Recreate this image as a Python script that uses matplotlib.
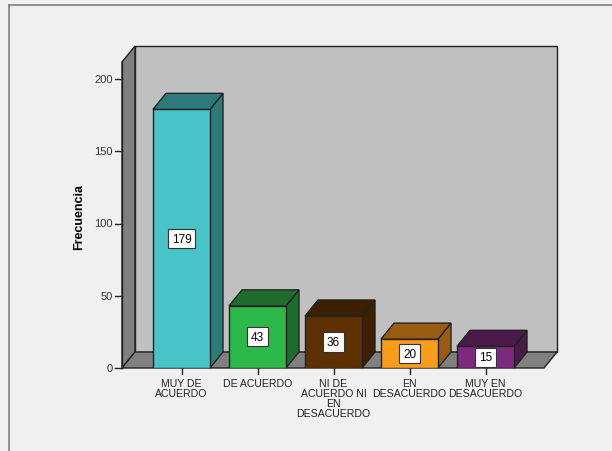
import matplotlib
matplotlib.use("Agg")
import matplotlib.pyplot as plt
from matplotlib.patches import Polygon, Rectangle

categories = ["MUY DE\nACUERDO", "DE ACUERDO", "NI DE\nACUERDO NI\nEN\nDESACUERDO",
              "EN\nDESACUERDO", "MUY EN\nDESACUERDO"]
values = [179, 43, 36, 20, 15]
front_colors = ["#48c3c8", "#2db84a", "#5e3000", "#f99c1c", "#7b2a7e"]
side_colors = ["#2e7a7a", "#1e6c2e", "#3d2000", "#9a5c12", "#4a1a48"]
yticks = [0, 50, 100, 150, 200]

W, H = 612, 452
fig = plt.figure(figsize=(W / 100, H / 100), dpi=100)
fig.patch.set_facecolor("#f0f0f0")

# outer frame (only top and left visible)
fig.add_artist(plt.Line2D([9 / W, 9 / W], [0, 1 - 6 / H], color="#808080", lw=1.2))
fig.add_artist(plt.Line2D([9 / W, 1], [1 - 6 / H, 1 - 6 / H], color="#808080", lw=1.2))

# axes: x from front-left of floor to back-right wall, y from 0 to top of back wall
px_left, px_right, px_zero, px_top = 122, 557, 369, 47
ax = fig.add_axes([px_left / W, (H - px_zero) / H,
                   (px_right - px_left) / W, (px_zero - px_top) / H])
xunit = 76.0  # px per category
x0 = -59.5 / xunit
x1 = x0 + (px_right - px_left) / xunit
yunit = (px_zero - 80) / 200.0  # px per value unit
ax.set_xlim(x0, x1)
ax.set_ylim(0, (px_zero - px_top) / yunit)
ax.axis("off")

# depth offset in data units
ddx = 13 / xunit
ddy = 16 / yunit
ytop = (px_zero - 63) / yunit
xr = x1 - ddx  # right edge of front floor

edge = dict(edgecolor="#222222", lw=1.0, clip_on=False, joinstyle="miter")
# back wall
ax.add_patch(Rectangle((x0 + ddx, ddy), xr - x0, ytop,
                       facecolor="#c0c0c0", **edge))
# left side wall
ax.add_patch(Polygon([(x0, 0), (x0 + ddx, ddy), (x0 + ddx, ytop + ddy), (x0, ytop)],
                     facecolor="#808080", **edge))
# floor
ax.add_patch(Polygon([(x0, 0), (xr, 0), (xr + ddx, ddy), (x0 + ddx, ddy)],
                     facecolor="#808080", **edge))

bw = 0.75
xs = list(range(len(values)))
bars = ax.bar(xs, values, width=bw, color=front_colors, edgecolor="#222222",
              lw=1.0, zorder=3)
for b, v, sc in zip(bars, values, side_colors):
    l = b.get_x()
    r = l + b.get_width()
    top = [(l, v), (r, v), (r + ddx, v + ddy), (l + ddx, v + ddy)]
    side = [(r, 0), (r + ddx, ddy), (r + ddx, v + ddy), (r, v)]
    ax.add_patch(Polygon(side, facecolor=sc, zorder=2, **edge))
    ax.add_patch(Polygon(top, facecolor=sc, zorder=3, **edge))
    ax.text(l + b.get_width() / 2, v / 2, str(v), ha="center", va="center",
            fontsize=8.5, family="Liberation Sans", zorder=5,
            bbox=dict(boxstyle="square,pad=0.3", facecolor="white",
                      edgecolor="#333333", lw=0.8))

# y ticks
for t in yticks:
    ax.plot([x0 - 7 / xunit, x0], [t, t], color="#222222", lw=1.0, clip_on=False)
    ax.text(x0 - 9 / xunit, t, str(t), ha="right", va="center", fontsize=8,
            family="Liberation Sans", color="#333333")
ax.plot([x0, x0], [0, ytop], color="#222222", lw=1.0, clip_on=False)

# x ticks
for x, c in zip(xs, categories):
    ax.plot([x, x], [0, -6 / yunit], color="#222222", lw=1.0, clip_on=False)
    ax.text(x, -10 / yunit, c, ha="center", va="top", fontsize=7.6,
            family="Liberation Sans", color="#222222", linespacing=0.98)

fig.text(79 / W, 1 - 217 / H, "Frecuencia", rotation=90, ha="center", va="center",
         fontsize=9, fontweight="bold", family="Liberation Sans")

fig.savefig("out.png", dpi=100, facecolor=fig.get_facecolor())
